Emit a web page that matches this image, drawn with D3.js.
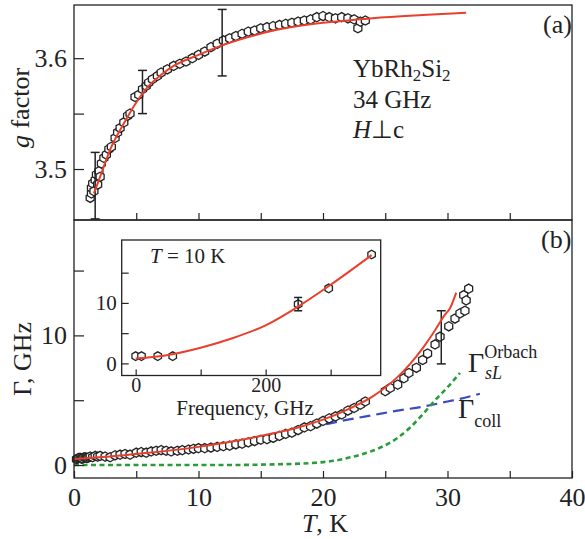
<!DOCTYPE html>
<html>
<head>
<meta charset="utf-8">
<script src="https://cdn.jsdelivr.net/npm/d3@7"></script>
<style>
body { margin: 0; background: #fff; }
text { font-family: "Liberation Serif", "Times New Roman", serif; fill: #222; }
</style>
</head>
<body>
<div id="chart"></div>
<script>
// ---- panel (a): g factor vs T ----
var gT = [1.3, 1.4, 1.4, 1.5, 1.6, 1.7, 1.8, 1.9, 2.0, 2.1, 2.2, 2.4, 2.6, 2.8, 3.0, 3.3, 3.5, 3.7, 4.0, 4.3,
          4.5, 4.9, 5.2, 5.5, 5.8, 6.0, 6.3, 6.7, 7.0, 7.5, 8.0, 8.5, 9.0, 9.5, 10.0, 10.5, 11.0, 11.5, 12.0, 12.5,
          13.0, 13.5, 14.0, 14.5, 15.0, 15.5, 16.0, 16.5, 17.0, 17.5, 18.0, 18.5, 19.0, 19.5, 20.0, 20.5, 21.0, 21.5,
          22.0, 22.5, 22.8, 23.0, 23.4];
var gVal = [3.474, 3.478, 3.483, 3.487, 3.480, 3.490, 3.495, 3.486, 3.498, 3.493, 3.505, 3.510, 3.513, 3.518, 3.520, 3.528, 3.533, 3.537, 3.542, 3.548,
            3.550, 3.565, 3.567, 3.572, 3.575, 3.578, 3.581, 3.584, 3.587, 3.590, 3.593, 3.595, 3.597, 3.600, 3.603, 3.606, 3.610, 3.613, 3.616, 3.618,
            3.620, 3.622, 3.624, 3.625, 3.627, 3.628, 3.629, 3.630, 3.631, 3.632, 3.633, 3.634, 3.635, 3.637, 3.638, 3.637, 3.636, 3.637,
            3.636, 3.635, 3.627, 3.633, 3.634];
var gErrT = [1.7, 5.5, 11.9];
var gErrLo = [3.455, 3.550, 3.584];
var gErrHi = [3.515, 3.589, 3.644];
var gFitT = [1.6, 2, 3, 4, 5, 6, 7, 8, 10, 12, 14, 16, 18, 20, 22, 25, 28, 31.5];
var gFit = [3.478, 3.490, 3.520, 3.541, 3.560, 3.575, 3.585, 3.593, 3.603, 3.612, 3.619, 3.625, 3.629, 3.632, 3.634, 3.637, 3.639, 3.641];

// ---- panel (b): linewidth vs T ----
var wT = [0.2, 0.3, 0.4, 0.5, 0.6, 0.7, 0.8, 0.9, 1.0, 1.1, 1.2, 1.3, 1.5, 1.7, 1.9, 2.1, 2.5, 2.9, 3.3, 3.7, 4.1, 4.5, 5.0, 5.4, 5.8, 6.2,
          6.6, 7.0, 7.4, 7.8, 8.3, 8.7, 9.2, 9.6, 10.0, 10.5, 11.0, 11.5, 12.0, 12.5, 13.0, 13.5, 14.0, 14.5, 15.0, 15.5,
          16.0, 16.5, 17.0, 17.5, 18.0, 18.5, 19.0, 19.5, 20.0, 20.5, 21.0, 21.5, 22.0, 22.5, 23.0, 23.4,
          25.0, 25.4, 26.0, 26.5, 26.9, 27.5, 28.0, 28.4, 29.0, 29.4, 30.1, 30.6, 31.0, 31.4, 31.3, 31.5, 31.7];
var wVal = [0.45, 0.50, 0.55, 0.55, 0.50, 0.50, 0.60, 0.60, 0.55, 0.55, 0.60, 0.65, 0.60, 0.70, 0.65, 0.70, 0.65, 0.60, 0.75, 0.80, 0.85, 0.80, 0.95, 1.00, 0.95, 1.05,
            1.10, 1.15, 1.10, 1.05, 1.10, 1.15, 1.20, 1.25, 1.30, 1.30, 1.35, 1.40, 1.45, 1.50, 1.60, 1.65, 1.75, 1.85, 1.95, 2.00,
            2.10, 2.25, 2.40, 2.50, 2.70, 2.90, 3.00, 3.20, 3.40, 3.60, 3.75, 3.90, 4.20, 4.40, 4.65, 4.90,
            5.70, 5.95, 6.20, 6.70, 7.10, 7.50, 8.10, 8.60, 9.30, 9.90, 10.70, 11.30, 11.70, 11.90, 13.10, 12.70, 13.60];
var wErrT = [29.5];
var wErrLo = [7.8];
var wErrHi = [11.9];
var fitT = [0, 2, 4, 6, 8, 10, 12, 14, 16, 18, 20, 22, 24, 26, 27, 28, 29, 29.8, 30.2, 30.7];
var fitVal = [0.45, 0.60, 0.75, 0.95, 1.15, 1.40, 1.70, 2.05, 2.45, 2.90, 3.50, 4.30, 5.30, 6.80, 7.80, 9.00, 10.40, 11.60, 12.10, 13.30];
var collT = [0, 2, 4, 6, 8, 10, 12, 14, 16, 18, 20, 22, 24, 26, 28, 30, 31, 32.6];
var collVal = [0.40, 0.55, 0.70, 0.90, 1.10, 1.30, 1.60, 1.90, 2.30, 2.70, 3.10, 3.50, 3.85, 4.20, 4.50, 4.90, 5.10, 5.50];
var orbT = [0, 12, 16, 19, 21, 23, 24.5, 26, 27, 28, 29, 30, 31];
var orbVal = [0, 0, 0.05, 0.15, 0.35, 0.80, 1.30, 2.10, 2.90, 3.90, 5.00, 6.00, 7.10];

// ---- inset: linewidth vs frequency at T = 10 K ----
var fFreq = [0, 9, 34, 57, 250, 297, 363];
var fVal = [1.2, 1.2, 1.2, 1.2, 9.8, 12.4, 18.0];
var fErrF = [250];
var fErrLo = [8.7];
var fErrHi = [10.9];
var fFitF = [0, 50, 100, 150, 200, 250, 300, 363];
var fFit = [0.8, 1.4, 2.6, 4.2, 6.3, 9.4, 13.0, 17.9];

// ---- ticks ----
var tTicks = [0, 5, 10, 15, 20, 25, 30, 35, 40];
var tLabels = ["0", "", "10", "", "20", "", "30", "", "40"];
var gTicks = [3.5, 3.55, 3.6];
var gLabels = ["3.5", "", "3.6"];
var wTicks = [0, 5, 10, 15];
var wLabels = ["0", "", "10", ""];
var fTicks = [0, 100, 200, 300];
var fLabels = ["0", "", "200", ""];
var iyTicks = [0, 5, 10, 15];
var iyLabels = ["0", "", "10", ""];

var red = "#e8402c", blue = "#3b4cc0", green = "#2a9d3a", ink = "#222";

var svg = d3.select("#chart").append("svg")
    .attr("width", 585)
    .attr("height", 539);
svg.append("rect").attr("width", 585).attr("height", 539).attr("fill", "#fff");

// scales
var x = d3.scaleLinear().domain([0, 40]).range([74, 572]);
var yG = d3.scaleLinear().domain([3.454, 3.648]).range([220, 5]);
var yW = d3.scaleLinear().domain([-1, 18.9]).range([478, 220]);
var xI = d3.scaleLinear().domain([-21.5, 377]).range([121.7, 380.7]);
var yI = d3.scaleLinear().domain([-2, 20.4]).range([375.5, 240]);

function zip(a, b) { return a.map(function(d, i) { return [d, b[i]]; }); }

// small hexagon used as marker
function hexPath(r) {
    var p = d3.path();
    for (var i = 0; i < 6; i++) {
        var a = Math.PI / 6 + i * Math.PI / 3;
        if (i === 0) p.moveTo(r * Math.cos(a), r * Math.sin(a));
        else p.lineTo(r * Math.cos(a), r * Math.sin(a));
    }
    p.closePath();
    return p.toString();
}

function styleAxis(g, size) {
    g.attr("font-family", null).attr("font-size", null);
    g.select(".domain").remove();
    g.selectAll("line").attr("stroke", ink).attr("stroke-width", 1.2);
    g.selectAll("text").attr("font-size", size).attr("fill", ink);
}

function drawLine(xs, ys, data, color, width, dash) {
    svg.append("path")
        .datum(data)
        .attr("fill", "none")
        .attr("stroke", color)
        .attr("stroke-width", width)
        .attr("stroke-dasharray", dash)
        .attr("d", d3.line().x(function(d) { return xs(d[0]); }).y(function(d) { return ys(d[1]); }).curve(d3.curveMonotoneX));
}

function drawPoints(xs, ys, data, r) {
    svg.append("g").selectAll("path")
        .data(data)
        .enter().append("path")
        .attr("d", hexPath(r))
        .attr("transform", function(d) { return "translate(" + xs(d[0]) + "," + ys(d[1]) + ")"; })
        .attr("fill", "#fff")
        .attr("stroke", ink)
        .attr("stroke-width", 1.3);
}

function drawErrors(xs, ys, xv, lo, hi, cap) {
    var g = svg.append("g").attr("stroke", ink).attr("stroke-width", 1.5);
    xv.forEach(function(v, i) {
        g.append("line").attr("x1", xs(v)).attr("x2", xs(v)).attr("y1", ys(lo[i])).attr("y2", ys(hi[i]));
        g.append("line").attr("x1", xs(v) - cap).attr("x2", xs(v) + cap).attr("y1", ys(lo[i])).attr("y2", ys(lo[i]));
        g.append("line").attr("x1", xs(v) - cap).attr("x2", xs(v) + cap).attr("y1", ys(hi[i])).attr("y2", ys(hi[i]));
    });
}

// ---- panel (a) ----
drawPoints(x, yG, zip(gT, gVal), 4.6);
drawErrors(x, yG, gErrT, gErrLo, gErrHi, 4.5);
drawLine(x, yG, zip(gFitT, gFit), red, 2, null);

svg.append("g").attr("transform", "translate(0,220)")
    .call(d3.axisBottom(x).tickValues(tTicks.slice(1, -1)).tickSize(-7).tickFormat(""))
    .call(styleAxis, 26);
svg.append("g").attr("transform", "translate(74,0)")
    .call(d3.axisLeft(yG).tickValues(gTicks).tickSize(-10).tickPadding(7)
        .tickFormat(function(d, i) { return gLabels[i]; }))
    .call(styleAxis, 26);

// ---- panel (b) ----
drawLine(x, yW, zip(collT, collVal), blue, 2.2, "11,6");
drawLine(x, yW, zip(orbT, orbVal), green, 2.6, "5,3.5");
drawPoints(x, yW, zip(wT, wVal), 4.6);
drawErrors(x, yW, wErrT, wErrLo, wErrHi, 4.5);
drawLine(x, yW, zip(fitT, fitVal), red, 2, null);

svg.append("g").attr("transform", "translate(0,478)")
    .call(d3.axisBottom(x).tickValues(tTicks).tickSize(-7).tickPadding(10)
        .tickFormat(function(d, i) { return tLabels[i]; }))
    .call(styleAxis, 26);
svg.append("g").attr("transform", "translate(74,0)")
    .call(d3.axisLeft(yW).tickValues(wTicks).tickSize(-10).tickPadding(7)
        .tickFormat(function(d, i) { return wLabels[i]; }))
    .call(styleAxis, 26);

// frames
svg.append("rect").attr("x", 74).attr("y", 5).attr("width", 498).attr("height", 215)
    .attr("fill", "none").attr("stroke", ink).attr("stroke-width", 1.3);
svg.append("rect").attr("x", 74).attr("y", 220).attr("width", 498).attr("height", 258)
    .attr("fill", "none").attr("stroke", ink).attr("stroke-width", 1.3);

// ---- inset ----
svg.append("rect").attr("x", 121.7).attr("y", 240).attr("width", 259).attr("height", 135.5)
    .attr("fill", "#fff").attr("stroke", ink).attr("stroke-width", 1.3);
drawPoints(xI, yI, zip(fFreq, fVal), 4.3);
drawErrors(xI, yI, fErrF, fErrLo, fErrHi, 4);
drawLine(xI, yI, zip(fFitF, fFit), red, 2, null);
svg.append("g").attr("transform", "translate(0,375.5)")
    .call(d3.axisBottom(xI).tickValues(fTicks).tickSize(-6).tickPadding(2)
        .tickFormat(function(d, i) { return fLabels[i]; }))
    .call(styleAxis, 20);
svg.append("g").attr("transform", "translate(121.7,0)")
    .call(d3.axisLeft(yI).tickValues(iyTicks).tickSize(-7).tickPadding(5)
        .tickFormat(function(d, i) { return iyLabels[i]; }))
    .call(styleAxis, 21);

// ---- labels ----
function label(xp, yp, size, parts, anchor) {
    var t = svg.append("text").attr("x", xp).attr("y", yp).attr("font-size", size)
        .attr("text-anchor", anchor || "start");
    parts.forEach(function(p) {
        var s = t.append("tspan").text(p.t);
        if (p.i) s.attr("font-style", "italic");
        if (p.s) s.attr("font-size", p.s);
        if (p.dy) s.attr("dy", p.dy);
        if (p.x !== undefined) s.attr("x", p.x);
    });
    return t;
}

label(543, 33, 26, [{t: "(a)"}]);
label(541, 248, 26, [{t: "(b)"}]);
label(353, 77, 25, [{t: "YbRh"}, {t: "2", s: 17, dy: 4}, {t: "Si", dy: -4}, {t: "2", s: 17, dy: 4}]);
label(353, 108, 25, [{t: "34 GHz"}]);
label(353, 138, 25, [{t: "H", i: true}, {t: "\u22a5c"}]);

label(150, 263, 21, [{t: "T", i: true}, {t: " = 10 K"}]);
label(245, 415, 21, [{t: "Frequency, GHz"}], "middle");
label(325, 532, 26, [{t: "T", i: true}, {t: ", K"}], "middle");

label(468, 372, 28, [{t: "\u0393"}, {t: "Orbach", s: 18, dy: -14}, {t: "sL", s: 18, i: true, x: 485, dy: 21}]);
label(458, 418, 28, [{t: "\u0393"}, {t: "coll", s: 18, dy: 9}]);

svg.append("text").attr("transform", "translate(29,108) rotate(-90)")
    .attr("text-anchor", "middle").attr("font-size", 26)
    .call(function(t) {
        t.append("tspan").attr("font-style", "italic").text("g");
        t.append("tspan").text(" factor");
    });
svg.append("text").attr("transform", "translate(31,359) rotate(-90)")
    .attr("text-anchor", "middle").attr("font-size", 26)
    .text("\u0393, GHz");
</script>
</body>
</html>
